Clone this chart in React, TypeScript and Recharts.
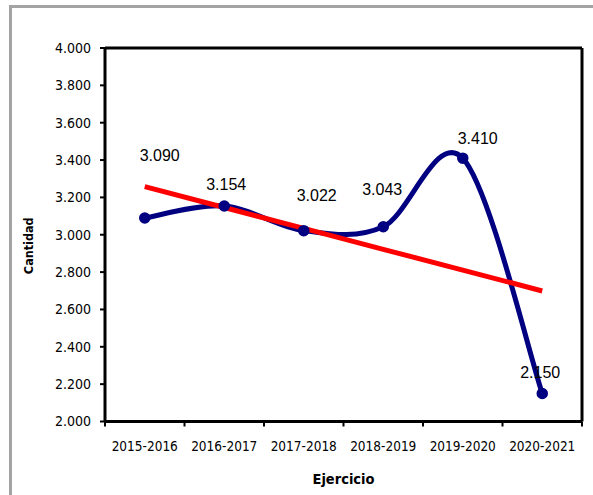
import React from 'react';
import { LineChart, Line, XAxis, YAxis, LabelList } from 'recharts';

const categories = ['2015-2016', '2016-2017', '2017-2018', '2018-2019', '2019-2020', '2020-2021'];
const cantidad = [3090, 3154, 3022, 3043, 3410, 2150];
const tendencia = [3258, 3146, 3034, 2922, 2811, 2699];
const yTicks = [2000, 2200, 2400, 2600, 2800, 3000, 3200, 3400, 3600, 3800, 4000];

const data = categories.map((c, i) => ({ ejercicio: c, cantidad: cantidad[i], tendencia: tendencia[i] }));

const CHART_W = 593;
const CHART_H = 495;
const MARGIN = { top: 47, right: 10, left: 0, bottom: 0 };
const Y_AXIS_W = 105;
const FRAME_AXIS = 1;
const PLOT_W = CHART_W - MARGIN.left - MARGIN.right - Y_AXIS_W - FRAME_AXIS;
const STEP = PLOT_W / categories.length;
const Y_DOMAIN = [2000, 4000];

const labelOffsets = [
  [15, -63],
  [2, -22],
  [13, -35],
  [-1, -37],
  [15, -20],
  [-2, -21],
];

const fmt = (v: number) => {
  const th = Math.floor(v / 1000);
  const rest = String(Math.round(v % 1000)).padStart(3, '0');
  return `${th}.${rest}`;
};

const excelSmooth = (context: any) => {
  let pts: number[][] = [];
  return {
    areaStart() {},
    areaEnd() {},
    lineStart() {
      pts = [];
    },
    lineEnd() {
      const n = pts.length;
      if (!n) return;
      context.moveTo(pts[0][0], pts[0][1]);
      for (let i = 0; i < n - 1; i++) {
        const p0 = pts[i - 1] || pts[i];
        const p1 = pts[i];
        const p2 = pts[i + 1];
        const p3 = pts[i + 2] || pts[i + 1];
        context.bezierCurveTo(
          p1[0] + (p2[0] - p0[0]) / 6,
          p1[1] + (p2[1] - p0[1]) / 6,
          p2[0] - (p3[0] - p1[0]) / 6,
          p2[1] - (p3[1] - p1[1]) / 6,
          p2[0],
          p2[1]
        );
      }
    },
    point(x: number, y: number) {
      pts.push([+x, +y]);
    },
  };
};

const tickFont = "'DejaVu Sans Condensed', 'Open Sans', sans-serif";
const labelFont = "'Liberation Sans', Arial, sans-serif";

const Dot = (p: any) => (
  <circle cx={p.cx} cy={p.cy} r={4.5} fill="#000080" stroke="#000080" strokeWidth={2.5} />
);

const XTick = (p: any) => {
  const { x, y, payload, index } = p;
  const last = index === categories.length - 1;
  return (
    <g>
      <line x1={x - STEP / 2} x2={x - STEP / 2} y1={y} y2={y + 5} stroke="#000" strokeWidth={2} />
      {last && <line x1={x + STEP / 2} x2={x + STEP / 2} y1={y} y2={y + 5} stroke="#000" strokeWidth={2} />}
      <text x={x} y={y + 29} textAnchor="middle" fill="#000" fontSize={13.5} fontFamily={tickFont}>
        {payload.value}
      </text>
    </g>
  );
};

const frameLine = { stroke: '#000', strokeWidth: 3 };

export default function App() {
  return (
    <div style={{ position: 'fixed', left: 0, top: 0, width: CHART_W, height: CHART_H, overflow: 'hidden', background: '#fff' }}>
      <div
        style={{
          position: 'absolute',
          left: 9,
          top: 5,
          width: 700,
          height: 700,
          borderTop: '3px solid #a3a3a3',
          borderLeft: '3px solid #a3a3a3',
        }}
      />
      <LineChart
        width={CHART_W}
        height={CHART_H}
        data={data}
        margin={MARGIN}
        style={{ position: 'absolute', left: 0, top: 0 }}
      >
        <XAxis
          xAxisId="top"
          orientation="top"
          dataKey="ejercicio"
          padding={{ left: STEP / 2, right: STEP / 2 }}
          height={FRAME_AXIS}
          tick={false}
          tickLine={false}
          axisLine={frameLine}
        />
        <YAxis
          yAxisId="right"
          orientation="right"
          domain={Y_DOMAIN}
          width={FRAME_AXIS}
          tick={false}
          tickLine={false}
          axisLine={frameLine}
        />
        <XAxis
          dataKey="ejercicio"
          height={73.5}
          padding={{ left: STEP / 2, right: STEP / 2 }}
          tickLine={false}
          axisLine={frameLine}
          tickMargin={0}
          tickSize={0}
          tick={<XTick />}
          interval={0}
          label={{
            content: (p: any) => {
              const vb = p.viewBox;
              return (
                <text
                  x={vb.x + vb.width / 2}
                  y={vb.y + 62}
                  textAnchor="middle"
                  fontFamily={tickFont}
                  fontWeight="bold"
                  fontSize={14.5}
                  fill="#000"
                >
                  Ejercicio
                </text>
              );
            },
          }}
        />
        <YAxis
          width={Y_AXIS_W}
          domain={Y_DOMAIN}
          ticks={yTicks}
          interval={0}
          tickFormatter={fmt}
          axisLine={frameLine}
          tickLine={{ stroke: '#000', strokeWidth: 2 }}
          tickSize={5}
          tickMargin={9}
          tick={{ fill: '#000', fontSize: 14, fontFamily: tickFont }}
          label={{
            content: (p: any) => {
              const vb = p.viewBox;
              const cx = vb.x + 28;
              const cy = vb.y + vb.height / 2 + 11;
              return (
                <text
                  x={cx}
                  y={cy}
                  transform={`rotate(-90 ${cx} ${cy})`}
                  textAnchor="middle"
                  dominantBaseline="central"
                  fontFamily={tickFont}
                  fontWeight="bold"
                  fontSize={12.5}
                  fill="#000"
                >
                  Cantidad
                </text>
              );
            },
          }}
        />
        <Line
          dataKey="cantidad"
          type={excelSmooth as any}
          stroke="#000080"
          strokeWidth={5}
          strokeLinejoin="round"
          dot={<Dot />}
          activeDot={false}
          isAnimationActive={false}
        >
          <LabelList
            dataKey="cantidad"
            content={(p: any) => {
              const off = labelOffsets[p.index] || [0, -12];
              return (
                <text
                  x={Number(p.x) + off[0]}
                  y={Number(p.y) + off[1] + 5.7}
                  textAnchor="middle"
                  fontFamily={labelFont}
                  fontSize={16}
                  fill="#000"
                >
                  {fmt(Number(p.value))}
                </text>
              );
            }}
          />
        </Line>
        <Line
          dataKey="tendencia"
          xAxisId="top"
          yAxisId="right"
          type="linear"
          stroke="#ff0000"
          strokeWidth={5}
          dot={false}
          activeDot={false}
          isAnimationActive={false}
        />
      </LineChart>
    </div>
  );
}
